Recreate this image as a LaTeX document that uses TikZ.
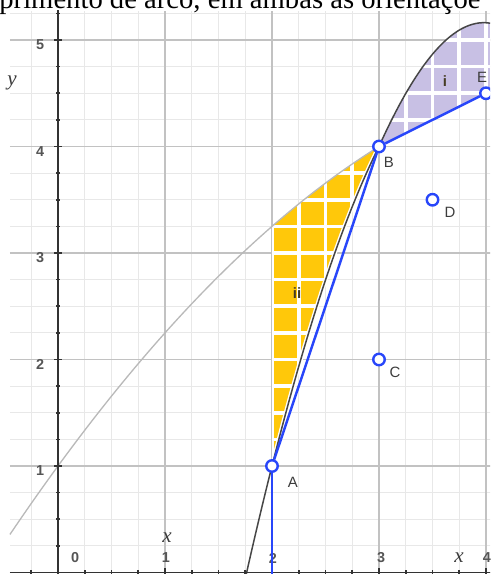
\documentclass[tikz,border=0pt]{standalone}
\usepackage{fontspec}
\setmainfont{Liberation Serif}
\newfontfamily\lblfont{Liberation Sans}
\definecolor{gridminor}{RGB}{232,232,232}
\definecolor{gridmajor}{RGB}{194,194,194}
\definecolor{gblue}{RGB}{40,70,250}
\definecolor{fillyellow}{RGB}{255,200,10}
\definecolor{fillpurple}{RGB}{200,192,228}
\definecolor{curvedark}{RGB}{70,70,70}
\definecolor{curvelight}{RGB}{185,185,185}
\definecolor{ticklbl}{RGB}{85,85,85}
\definecolor{ptlbl}{RGB}{60,60,60}
\definecolor{reglbl}{RGB}{70,60,35}
\begin{document}
\begin{tikzpicture}[x=2.14cm,y=2.13cm,
  pt/.style={circle,draw=gblue,line width=1.35pt,fill=white,inner sep=0pt,minimum size=0.23cm},
  bl/.style={gblue,line width=1.4pt},
  ticklabel/.style={text=ticklbl,font=\lblfont\bfseries\fontsize{8.2}{9}\selectfont,inner sep=0pt},
  ptlabel/.style={text=ptlbl,font=\lblfont\fontsize{8.5}{10}\selectfont,inner sep=0pt},
  reglabel/.style={text=reglbl,font=\lblfont\bfseries\fontsize{8.5}{10}\selectfont,inner sep=0pt},
  axlabel/.style={text=ptlbl,font=\itshape\fontsize{12}{14}\selectfont,inner sep=0pt},
  hatch/.style={white,line width=2pt}]
\useasboundingbox (-0.5421,-0.0141) rectangle (4.0374,5.3756);
\clip (-0.5421,-0.0141) rectangle (4.0374,5.3756);
% grid
\draw[gridminor,line width=0.7pt] (-0.449,-0.03) grid[xstep=0.25,ystep=0.25] (4.05,5.272);
\draw[gridmajor,line width=0.85pt] (-0.449,-0.03) grid[xstep=1,ystep=1] (4.05,5.272);
% yellow region ii
\begin{scope}
\path[clip] (2,1) -- (2,3.25)
  -- plot[domain=2:3,samples=30] (\x,{1+1.375*\x-0.125*\x*\x})
  -- plot[domain=1:0,samples=30] ({2+\x},{1+3.986*\x-0.986*\x*\x}) -- cycle;
\fill[fillyellow] (1.5,0.5) rectangle (3.5,4.5);
\draw[hatch] (1.75,0.75) grid[step=0.25] (3.25,4.25);
\end{scope}
% purple region i
\begin{scope}
\path[clip] (3,4)
  -- plot[domain=1:2.04,samples=30] ({2+\x},{1+3.621*\x-0.472*\x*\x-0.149*\x*\x*\x})
  -- (4.04,4.52) -- (4,4.5) -- cycle;
\fill[fillpurple] (2.5,3.5) rectangle (4.5,5.6);
\draw[hatch] (2.75,3.75) grid[step=0.25] (4.25,5.5);
\end{scope}
% light curve
\draw[curvelight,line width=0.75pt] plot[domain=-0.449:3,samples=60] (\x,{1+1.375*\x-0.125*\x*\x});
% dark curve
\draw[white,line width=2.4pt] plot[domain=0:1,samples=30] ({2+\x},{1+3.986*\x-0.986*\x*\x});
\draw[curvedark,line width=0.85pt] plot[domain=-0.25:1,samples=40] ({2+\x},{1+3.986*\x-0.986*\x*\x})
  -- plot[domain=1:2.04,samples=40] ({2+\x},{1+3.621*\x-0.472*\x*\x-0.149*\x*\x*\x});
% axes
\draw[black!80,line width=1.1pt] (0,-0.03) -- (0,5.28);
\draw[black!80,line width=1.1pt] (-0.449,0) -- (4.05,0);
\foreach \j in {1,...,21} \draw[black!80,line width=0.9pt] (0,\j/4) ++(-0.045cm,0) -- ++(0.09cm,0);
\foreach \j in {1,...,5} \draw[black!80,line width=0.9pt] (0,\j) ++(-0.08cm,0) -- ++(0.16cm,0);
\foreach \j in {-1,...,16} \draw[black!80,line width=0.9pt] (\j/4,0) ++(0,-0.05cm) -- ++(0,0.1cm);
\foreach \j in {1,...,4} \draw[black!80,line width=0.9pt] (\j,0) ++(0,-0.08cm) -- ++(0,0.16cm);
% tick labels
\node[ticklabel] (y1) at (-0.168,0.953) {1};
\node[ticklabel] (y2) at (-0.168,1.95) {2};
\node[ticklabel] (y3) at (-0.168,2.953) {3};
\node[ticklabel] (y4) at (-0.168,3.953) {4};
\node[ticklabel] (y5) at (-0.168,4.953) {5};
\node[ticklabel] (x0) at (0.159,0.136) {0};
\node[ticklabel] (x1) at (1.009,0.136) {1};
\node[ticklabel] (x2) at (2.009,0.136) {2};
\node[ticklabel] (x3) at (3.019,0.136) {3};
\node[ticklabel] (x4) at (4.009,0.136) {4};
% axis letters
\node[axlabel] (ly) at (-0.43,4.596) {y};
\node[axlabel] (lx1) at (1.019,0.33) {x};
\node[axlabel] (lx2) at (3.748,0.14) {x};
% points
\node[pt] (A) at (2,1) {};
\node[pt] (B) at (3,4) {};
\node[pt] (C) at (3,2) {};
\node[pt] (D) at (3.5,3.5) {};
\node[pt] (E) at (4,4.5) {};
\coordinate (A0) at (2,-0.03);
\draw[bl] (A) -- (A0);
\draw[bl] (A) -- (B);
\draw[bl] (B) -- (E);
% point labels
\node[ptlabel] (lA) at (2.196,0.85) {A};
\node[ptlabel] (lB) at (3.093,3.854) {B};
\node[ptlabel] (lC) at (3.15,1.883) {C};
\node[ptlabel] (lD) at (3.664,3.385) {D};
\node[ptlabel] (lE) at (3.963,4.653) {E};
\node[reglabel] (li) at (3.617,4.615) {i};
\node[reglabel] (lii) at (2.234,2.624) {ii};
% top text
\node[anchor=base west,inner sep=0pt,font=\fontsize{16.3}{18}\selectfont] (title) at (-0.551,5.30) {primento de arco, em ambas as orientaçõe};
\end{tikzpicture}
\end{document}
